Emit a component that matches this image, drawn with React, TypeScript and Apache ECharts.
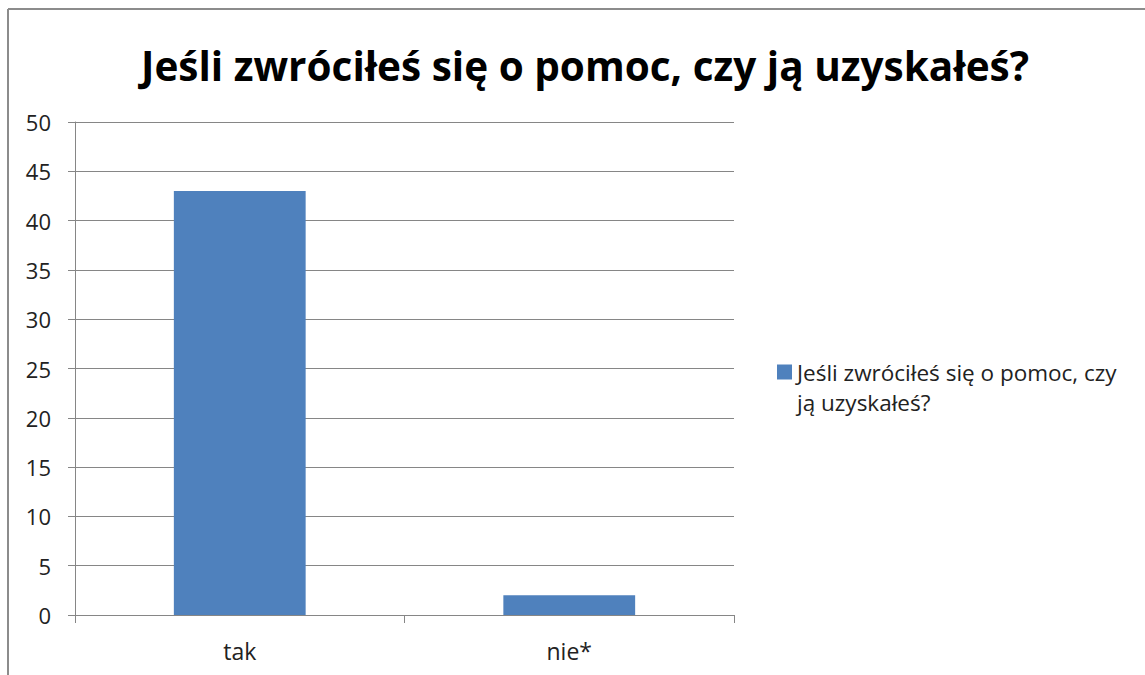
import React, { useEffect, useRef } from "react";
import * as echarts from "echarts";

const categories = ["tak", "nie*"];
const values = [43, 2];
const seriesName = "Jeśli zwróciłeś się o pomoc, czy ją uzyskałeś?";
const titleText = "Jeśli zwróciłeś się o pomoc, czy ją uzyskałeś?";
const legendLines = ["Jeśli zwróciłeś się o pomoc, czy", "ją uzyskałeś?"];

export default function App() {
  const ref = useRef<HTMLDivElement>(null);
  useEffect(() => {
    if (!ref.current) return;
    const chart = echarts.init(ref.current, null, { renderer: "svg" });
    const font = "Open Sans";
    chart.setOption({
      animation: false,
      backgroundColor: "#ffffff",
      title: {
        text: titleText,
        left: 580,
        textAlign: "center",
        top: 40,
        textStyle: { fontFamily: font, fontWeight: "bold", fontSize: 40.5, color: "#000" },
      },
      grid: { left: 75, right: 411, top: 122, bottom: 60, containLabel: false },
      legend: {
        left: 772,
        top: 322,
        orient: "vertical",
        itemWidth: 15,
        itemHeight: 15,
        itemGap: 4,
        icon: "rect",
        formatter: () => "\n" + legendLines.join("\n"),
        textStyle: { fontFamily: font, fontSize: 22.5, color: "#222", lineHeight: 30 },
        data: [seriesName],
      },
      xAxis: {
        type: "category",
        data: categories,
        axisLine: { lineStyle: { color: "#868686", width: 1 } },
        axisTick: { show: true, length: 8, alignWithLabel: false, lineStyle: { color: "#868686" } },
        axisLabel: { fontFamily: font, fontSize: 23, color: "#222", margin: 24 },
      },
      yAxis: {
        type: "value",
        min: 0,
        max: 50,
        interval: 5,
        axisLine: { show: true, lineStyle: { color: "#868686", width: 1 } },
        axisTick: { show: true, length: 7, lineStyle: { color: "#868686" } },
        axisLabel: { fontFamily: font, fontSize: 22, color: "#222", margin: 24 },
        splitLine: { lineStyle: { color: "#868686", width: 1 } },
      },
      series: [
        {
          name: seriesName,
          type: "bar",
          data: values,
          barWidth: "40%",
          itemStyle: { color: "#4f81bd" },
        },
      ],
      graphic: [
        { type: "line", shape: { x1: 8, y1: 9, x2: 1145, y2: 9 }, style: { stroke: "#8c8c8c", lineWidth: 2 } },
        { type: "line", shape: { x1: 8, y1: 9, x2: 8, y2: 675 }, style: { stroke: "#8c8c8c", lineWidth: 2 } },
      ],
    });
    return () => chart.dispose();
  }, []);
  return (
    <div
      ref={ref}
      style={{ position: "fixed", left: 0, top: 0, width: 1145, height: 675 }}
    />
  );
}
